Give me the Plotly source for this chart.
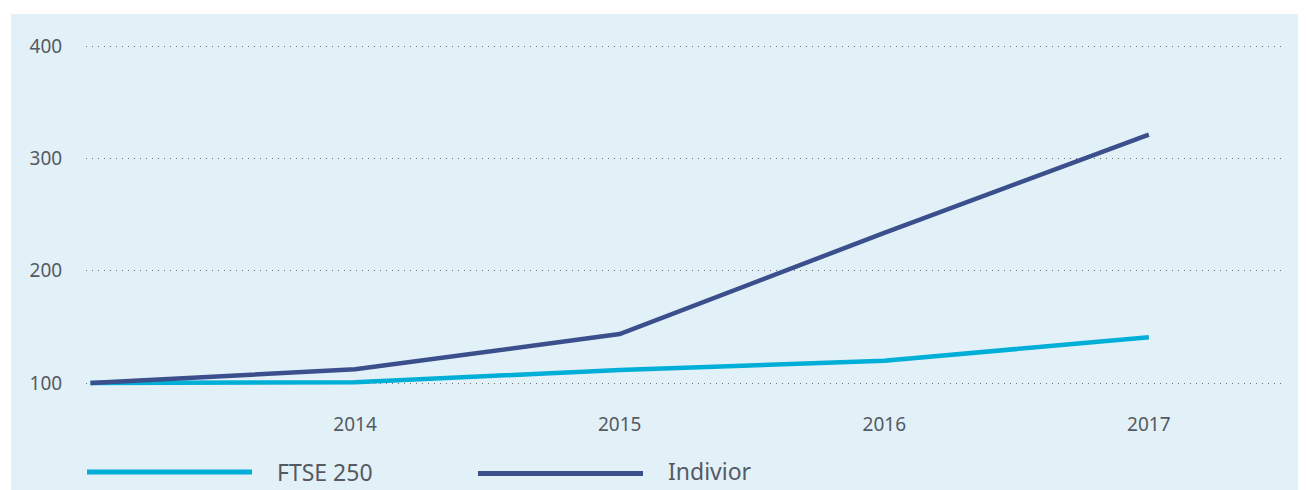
import plotly.graph_objects as go

years = [2013, 2014, 2015, 2016, 2017]
ftse250 = [100, 100.6, 111.6, 119.9, 140.7]
indivior = [100, 112.2, 143.6, 233.8, 321.4]
tick_years = [2014, 2015, 2016, 2017]
y_ticks = [100, 200, 300, 400]

CYAN = "#00AFD7"
NAVY = "#3B4F8D"
BG = "#E2F0F8"
TXT = "#555A62"
FONT = "Noto Sans"

OFF = 8  # page body offset
W, H = 1306 - OFF, 490 - OFF
L, R, T, B = 86 - OFF, 23, 40 - OFF, 90
PW, PH = W - L - R, H - T - B

def px(x):
    return (x - OFF - L) / PW

def py(y):
    return (H - B - (y - OFF)) / PH

fig = go.Figure()
fig.add_trace(go.Scatter(x=years, y=ftse250, mode="lines", name="FTSE 250",
                         line=dict(color=CYAN, width=4.5), showlegend=False))
fig.add_trace(go.Scatter(x=years, y=indivior, mode="lines", name="Indivior",
                         line=dict(color=NAVY, width=4.5), showlegend=False))

shapes = [
    dict(type="rect", xref="paper", yref="paper", x0=px(11), x1=px(1320),
         y0=py(500), y1=py(14), fillcolor=BG, line=dict(width=0), layer="below"),
    dict(type="line", xref="paper", yref="paper", x0=px(87), x1=px(252),
         y0=py(472), y1=py(472), line=dict(color=CYAN, width=5)),
    dict(type="line", xref="paper", yref="paper", x0=px(478), x1=px(643),
         y0=py(473.5), y1=py(473.5), line=dict(color=NAVY, width=5)),
]
annotations = [
    dict(xref="paper", yref="paper", x=px(275), y=py(472), text="FTSE 250",
         showarrow=False, xanchor="left", yanchor="middle",
         font=dict(family=FONT, size=23, color=TXT)),
    dict(xref="paper", yref="paper", x=px(666), y=py(471), text="Indivior",
         showarrow=False, xanchor="left", yanchor="middle",
         font=dict(family=FONT, size=23, color=TXT)),
]

fig.update_layout(
    width=W, height=H,
    margin=dict(l=L, r=R, t=T, b=B, autoexpand=False),
    paper_bgcolor="white",
    plot_bgcolor="rgba(0,0,0,0)",
    shapes=shapes,
    annotations=annotations,
    font=dict(family=FONT, size=19, color=TXT),
    xaxis=dict(range=[2012.983, 2017.507], tickvals=tick_years,
               ticktext=[str(v) for v in tick_years], showgrid=False,
               zeroline=False, showline=False, ticks="outside", ticklen=7,
               tickcolor="rgba(0,0,0,0)"),
    yaxis=dict(range=[84.85, 405.7], tickvals=y_ticks, showgrid=True,
               gridcolor="#707070", gridwidth=1, griddash="1px,5px",
               zeroline=False, showline=False, ticks="outside", ticklen=19,
               tickcolor="rgba(0,0,0,0)"),
)

fig.write_html("out.html")
